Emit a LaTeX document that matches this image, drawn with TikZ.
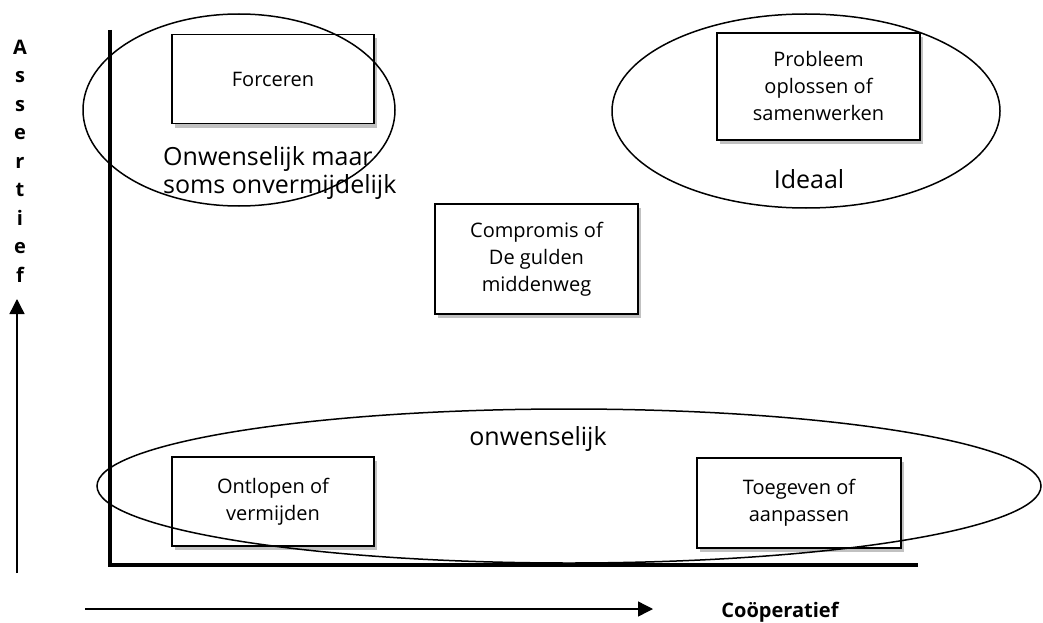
\documentclass[tikz,border=0pt]{standalone}
\usepackage{fontspec}
\setmainfont{Open Sans}
\usetikzlibrary{arrows.meta,shadows}
\tikzset{
    blk/.style={rectangle, draw=black, fill=white, line width=1.4pt, align=center,
                inner sep=2pt, font=\fontsize{20}{27}\selectfont,
                drop shadow={shadow xshift=3pt, shadow yshift=-4pt,
                             fill=black!35, opacity=.7}},
    zone/.style={draw=black, line width=1.5pt},
    axis/.style={line width=3.5pt, line join=miter},
    arr/.style={-{Triangle[width=15pt,length=15pt]}, line width=1.4pt},
    lbl/.style={font=\fontsize{25}{28}\selectfont, inner sep=0pt, align=left},
    axlbl/.style={font=\fontsize{20}{28.5}\selectfont\bfseries, inner sep=0pt,
                  align=center},
}
\begin{document}
\begin{tikzpicture}[x=1pt, y=-1pt]
    \useasboundingbox (0,0) rectangle (1043,623);

    % assen
    \coordinate (ytop)   at (110,30);
    \coordinate (origin) at (110,565);
    \coordinate (xend)   at (918,565);
    \draw[axis] (ytop) -- (origin) -- (xend);

    % stijlen
    \node[blk, minimum width=202pt, minimum height=89pt]  (forc) at (273,79)  {Forceren};
    \node[blk, minimum width=203pt, minimum height=107pt] (prob) at (818.5,86.5) {Probleem\\oplossen of\\samenwerken};
    \node[blk, minimum width=203pt, minimum height=110pt] (comp) at (536.5,259) {Compromis of\\De gulden\\middenweg};
    \node[blk, minimum width=202pt, minimum height=89pt]  (ontl) at (273,501.5) {Ontlopen of\\vermijden};
    \node[blk, minimum width=204pt, minimum height=90pt]  (toeg) at (799,503)   {Toegeven of\\aanpassen};

    % zones
    \draw[zone] (239,110) ellipse [x radius=156, y radius=96];
    \draw[zone] (806,111) ellipse [x radius=194, y radius=97];
    \draw[zone] (569,486) ellipse [x radius=472, y radius=77];

    \node[lbl, anchor=base west] (onw)  at (163,193) {Onwenselijk maar\\soms onvermijdelijk};
    \node[lbl, anchor=base]      (ideal) at (809,188) {Ideaal};
    \node[lbl, anchor=base]      (onwb) at (538,445) {onwenselijk};

    % pijlen
    \coordinate (vstart) at (17,573);
    \coordinate (vtip)   at (17,299);
    \draw[arr] (vstart) -- (vtip);
    \node[axlbl] (assert) at (20,161) {A\\s\\s\\e\\r\\t\\i\\e\\f};

    \coordinate (hstart) at (85,609);
    \coordinate (htip)   at (653,609);
    \draw[arr] (hstart) -- (htip);
    \node[axlbl, anchor=base] (coop) at (780,617) {Coöperatief};
\end{tikzpicture}
\end{document}
